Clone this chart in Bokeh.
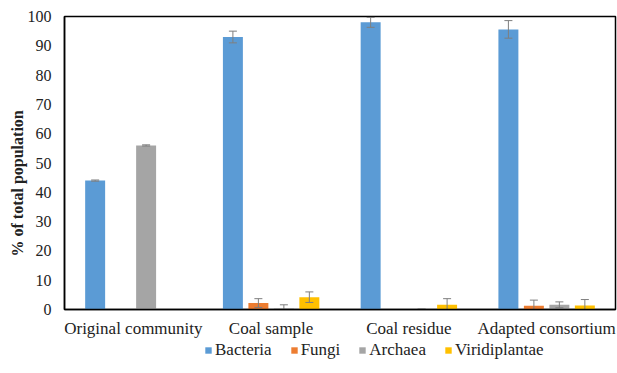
from bokeh.plotting import figure
from bokeh.layouts import column
from bokeh.models import (ColumnDataSource, FactorRange, Range1d, Legend, LegendItem,
                          Title)
from bokeh.transform import dodge
from bokeh.embed import file_html
from bokeh.resources import INLINE

# Sample groups and taxa
categories = ["Original community", "Coal sample", "Coal residue", "Adapted consortium"]
taxa = ["Bacteria", "Fungi", "Archaea", "Viridiplantae"]

# Relative abundance (% of total population) per group
bacteria = [44.0, 93.0, 98.0, 95.6]
fungi = [0.0, 2.2, 0.0, 1.3]
archaea = [56.0, 0.4, 0.1, 1.6]
viridiplantae = [0.0, 4.2, 1.6, 1.4]

# Standard deviations
bacteria_err = [0.2, 2.0, 1.7, 3.0]
fungi_err = [0.0, 1.5, 0.0, 1.9]
archaea_err = [0.2, 1.2, 0.0, 1.0]
viridiplantae_err = [0.0, 1.8, 2.1, 2.0]

colors = ["#5B9BD5", "#ED7D31", "#A5A5A5", "#FFC000"]
offsets = [-0.2775, -0.0925, 0.0925, 0.2775]
bar_width = 0.145
font = "Liberation Serif"
text_color = "#222222"

p = figure(
    width=617, height=340,
    x_range=FactorRange(*categories),
    y_range=Range1d(0, 100),
    output_backend="svg", toolbar_location=None,
    min_border_left=64, min_border_right=2, min_border_top=16, min_border_bottom=28,
)
p.background_fill_color = "white"
p.border_fill_color = "white"
p.outline_line_color = "black"
p.outline_line_width = 1.5
p.xgrid.visible = False
p.ygrid.visible = False

series = [
    (bacteria, bacteria_err),
    (fungi, fungi_err),
    (archaea, archaea_err),
    (viridiplantae, viridiplantae_err),
]

for name, (vals, errs), color, off in zip(taxa, series, colors, offsets):
    src = ColumnDataSource(dict(
        cat=categories,
        val=vals,
        upper=[v + e for v, e in zip(vals, errs)],
        lower=[max(v - e, 0) for v, e in zip(vals, errs)],
    ))
    xs = dodge("cat", off, range=p.x_range)
    p.vbar(x=xs, top="val", width=bar_width, source=src,
           fill_color=color, line_color=None)
    # error bars: stem plus caps
    p.segment(x0=xs, y0="lower", x1=xs, y1="upper", source=src,
              line_color="#7F7F7F", line_width=1)
    p.scatter(x=xs, y="upper", marker="dash", size=8, source=src,
              line_color="#7F7F7F", line_width=1)
    p.scatter(x=xs, y="lower", marker="dash", size=8, source=src,
              line_color="#7F7F7F", line_width=1)

p.yaxis.ticker = list(range(0, 101, 10))
p.yaxis.major_label_text_font = font
p.yaxis.major_label_text_font_size = "16px"
p.yaxis.major_label_text_color = text_color
p.yaxis.major_label_standoff = 7

p.xaxis.major_label_text_font = font
p.xaxis.major_label_text_font_size = "17px"
p.xaxis.major_label_text_color = text_color
p.xaxis.major_label_standoff = 3

for ax in (p.xaxis, p.yaxis):
    ax.major_tick_line_color = None
    ax.minor_tick_line_color = None
    ax.axis_line_color = "black"
    ax.axis_line_width = 1.5

# vertical value-axis title, set a little below the frame's middle
ytitle = Title(text="% of total population", align="left", offset=53,
               text_font=font, text_font_style="bold", text_font_size="16px",
               text_color=text_color, standoff=-2)
p.add_layout(ytitle, "left")

# separate strip holding the legend row; its bars are zero-size swatch carriers
leg = figure(width=617, height=33, output_backend="svg", toolbar_location=None,
             x_axis_location=None, y_axis_location=None,
             x_range=Range1d(0, 1), y_range=Range1d(0, 1),
             min_border=0, outline_line_color=None)
leg.xgrid.visible = False
leg.ygrid.visible = False
items = []
for name, color in zip(taxa, colors):
    r = leg.vbar(x=[0], top=[0], width=0, fill_color=color, line_color=None)
    items.append(LegendItem(label=name, renderers=[r]))
legend = Legend(
    items=items, orientation="horizontal", location=(140, 13),
    label_text_font=font, label_text_font_size="17px", label_text_color=text_color,
    glyph_width=8, glyph_height=8, label_standoff=3, spacing=18,
    padding=0, margin=0, border_line_color=None, background_fill_alpha=0,
)
leg.add_layout(legend, "center")

layout = column(p, leg, spacing=0)
open("out.html", "w").write(file_html(layout, INLINE))
